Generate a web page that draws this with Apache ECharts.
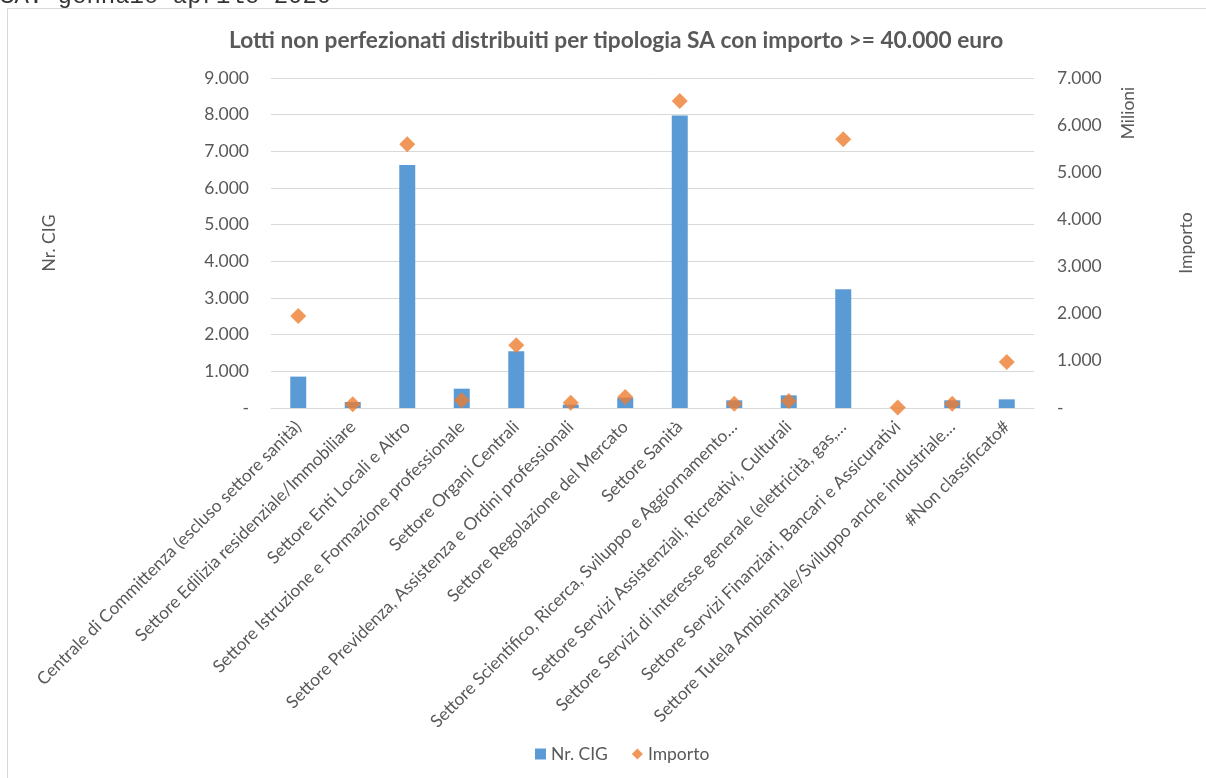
<!DOCTYPE html>
<html>
<head>
<meta charset="utf-8">
<script src="https://cdn.jsdelivr.net/npm/echarts@6/dist/echarts.min.js"></script>
<style>
    html, body { margin: 0; padding: 0; background: #fff; }
    #chart { width: 1206px; height: 778px; }
</style>
</head>
<body>
<div id="chart"></div>
<script>
// categorie (tipologia SA)
let categories = [
    "Centrale di Committenza (escluso settore sanità)",
    "Settore Edilizia residenziale/Immobiliare",
    "Settore Enti Locali e Altro",
    "Settore Istruzione e Formazione professionale",
    "Settore Organi Centrali",
    "Settore Previdenza, Assistenza e Ordini professionali",
    "Settore Regolazione del Mercato",
    "Settore Sanità",
    "Settore Scientifico, Ricerca, Sviluppo e Aggiornamento…",
    "Settore Servizi Assistenziali, Ricreativi, Culturali",
    "Settore Servizi di interesse generale (elettricità, gas,…",
    "Settore Servizi Finanziari, Bancari e Assicurativi",
    "Settore Tutela Ambientale/Sviluppo anche industriale…",
    "#Non classificato#"
];
// Nr. CIG (asse sinistro)
let nrCig = [856, 164, 6627, 527, 1545, 91, 282, 7980, 209, 345, 3236, 6, 209, 236];
// Importo in milioni (asse destro)
let importo = [1952, 78, 5594, 163, 1330, 113, 233, 6513, 92, 149, 5700, 8, 92, 976];

let textColor = '#595959';
let fontName = 'Lato';

// 1.000 -> "1.000", 0 -> "-"
function fmt(value) {
    if (value === 0) return '-';
    return String(value).replace(/\B(?=(\d{3})+(?!\d))/g, '.');
}

let chart = echarts.init(document.getElementById('chart'));
let option = {
    animation: false,
    backgroundColor: '#fff',
    textStyle: { fontFamily: fontName },
    title: {
        text: 'Lotti non perfezionati distribuiti per tipologia SA con importo >= 40.000 euro',
        left: 224,
        top: 24,
        textStyle: { color: textColor, fontSize: 22.7, fontWeight: 'bold', fontFamily: fontName }
    },
    legend: {
        bottom: 10,
        left: 530,
        itemWidth: 11,
        itemHeight: 11,
        itemGap: 24,
        textStyle: { color: textColor, fontSize: 17.5, fontFamily: fontName },
        data: [
            { name: 'Nr. CIG', icon: 'rect' },
            { name: 'Importo', icon: 'diamond', itemStyle: { color: '#ED7D31' } }
        ]
    },
    graphic: [
        {
            type: 'rect',
            silent: true,
            shape: { x: 7.5, y: 8.5, width: 1300, height: 900 },
            style: { fill: 'none', stroke: '#D9D9D9', lineWidth: 1 }
        },
        {
            type: 'text',
            left: 0,
            top: -15,
            style: { text: 'SA: gennaio aprile 2020', font: '24px "Liberation Mono"', fill: '#333' }
        },
        {
            type: 'text',
            x: 1128,
            y: 113,
            rotation: Math.PI / 2,
            style: {
                text: 'Milioni', fill: textColor, fontSize: 17.5, fontFamily: fontName,
                align: 'center', verticalAlign: 'middle'
            }
        }
    ],
    grid: {
        left: 271,
        right: 172,
        top: 78,
        bottom: 370
    },
    xAxis: {
        type: 'category',
        data: categories,
        axisTick: { show: false },
        axisLine: { lineStyle: { color: '#D9D9D9' } },
        axisLabel: {
            interval: 0,
            rotate: 45,
            margin: 16,
            color: textColor,
            fontSize: 17.4,
            fontFamily: fontName
        }
    },
    yAxis: [
        {
            type: 'value',
            min: 0,
            max: 9000,
            interval: 1000,
            name: 'Nr. CIG',
            nameLocation: 'middle',
            nameGap: 213,
            nameTextStyle: { color: textColor, fontSize: 17.5, fontFamily: fontName },
            axisLine: { show: false },
            axisTick: { show: false },
            splitLine: { lineStyle: { color: '#D9D9D9' } },
            axisLabel: { color: textColor, fontSize: 17.5, margin: 22, formatter: fmt }
        },
        {
            type: 'value',
            min: 0,
            max: 7000,
            interval: 1000,
            name: 'Importo',
            nameLocation: 'middle',
            nameGap: 143,
            nameTextStyle: { color: textColor, fontSize: 17.5, fontFamily: fontName },
            axisLine: { show: false },
            axisTick: { show: false },
            splitLine: { show: false },
            axisLabel: { color: textColor, fontSize: 17.5, margin: 23, formatter: fmt }
        }
    ],
    series: [
        {
            name: 'Nr. CIG',
            type: 'bar',
            data: nrCig,
            barWidth: 16,
            itemStyle: { color: '#5B9BD5' }
        },
        {
            name: 'Importo',
            type: 'scatter',
            yAxisIndex: 1,
            data: importo,
            symbol: 'diamond',
            symbolSize: [16, 16],
            itemStyle: { color: '#ED7D31' }
        }
    ]
};
chart.setOption(option);
</script>
</body>
</html>
